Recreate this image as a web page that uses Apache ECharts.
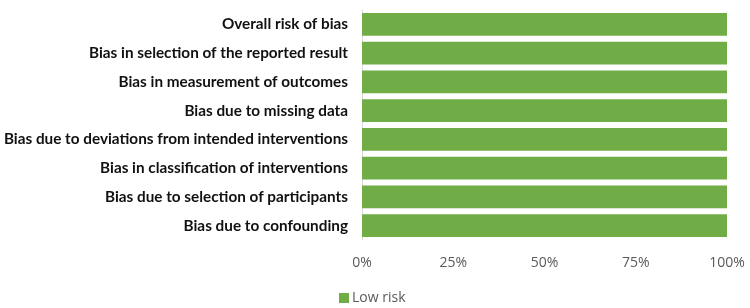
<!DOCTYPE html>
<html>
<head>
<meta charset="utf-8">
<script src="https://cdn.jsdelivr.net/npm/echarts@6/dist/echarts.min.js"></script>
<style>
  html, body { margin: 0; padding: 0; background: #fff; }
  #chart { width: 750px; height: 308px; }
</style>
</head>
<body>
<div id="chart"></div>
<script>
// categories listed bottom to top (category axis starts at the bottom)
const categories = [
  "Bias due to confounding",
  "Bias due to selection of participants",
  "Bias in classification of interventions",
  "Bias due to deviations from intended interventions",
  "Bias due to missing data",
  "Bias in measurement of outcomes",
  "Bias in selection of the reported result",
  "Overall risk of bias"
];
const lowRisk = [100, 100, 100, 100, 100, 100, 100, 100];
const seriesName = "Low risk";

const chart = echarts.init(document.getElementById("chart"));

const options = {
  animation: false,
  grid: {
    left: 362,
    right: 23,
    top: 10,
    bottom: 68,
    containLabel: false,
  },
  legend: {
    data: [seriesName],
    top: 286,
    left: 334,
    itemWidth: 10,
    itemHeight: 10,
    itemGap: 4,
    icon: "rect",
    textStyle: { fontFamily: "Open Sans", fontSize: 14, color: "#595959", padding: [0, 0, 0, -2] },
  },
  xAxis: {
    type: "value",
    min: 0,
    max: 100,
    interval: 25,
    axisLine: { show: false },
    axisTick: { show: false },
    splitLine: { show: false },
    axisLabel: {
      formatter: "{value}%",
      fontFamily: "Open Sans",
      fontSize: 14,
      color: "#595959",
      margin: 16,
    },
  },
  yAxis: {
    type: "category",
    data: categories,
    axisLine: { show: true, lineStyle: { color: "#d9d9d9", width: 1 } },
    axisTick: { show: false },
    axisLabel: {
      fontFamily: "Lato",
      fontWeight: "bold",
      fontSize: 15.3,
      color: "#111111",
      margin: 14,
    },
  },
  series: [
    {
      name: seriesName,
      type: "bar",
      data: lowRisk,
      barCategoryGap: "21%",
      itemStyle: { color: "#70AD47" },
    },
  ],
};

chart.setOption(options);
</script>
</body>
</html>
